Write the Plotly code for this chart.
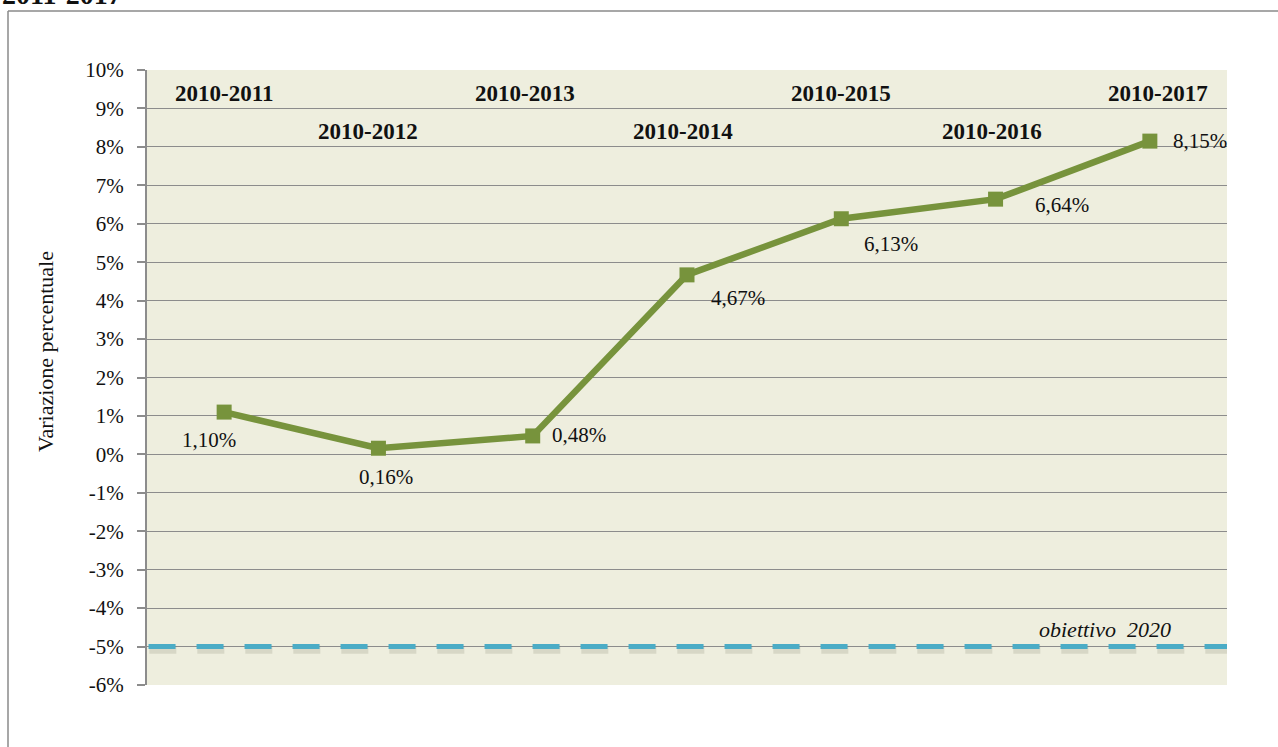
import plotly.graph_objects as go

periodi = ["2010-2011", "2010-2012", "2010-2013", "2010-2014",
           "2010-2015", "2010-2016", "2010-2017"]
variazione = [1.10, 0.16, 0.48, 4.67, 6.13, 6.64, 8.15]
obiettivo = -5.0
tick_vals = list(range(-6, 11))
tick_text = [f"{v}%" for v in tick_vals]
# quota dei nomi dei periodi (righe alternate)
quota_periodi = [9.4, 8.4, 9.4, 8.4, 9.4, 8.4, 9.4]

# spostamenti delle etichette (px)
label_shift = [(-15, -28), (8, -29), (46, 1), (51, -23), (50, -25), (66, -6), (50, 0)]
periodo_shift = [0, -10, -8, -4, 0, -4, 8]

serif = "Liberation Serif, Times New Roman, serif"
W, H = 1278, 747
L, R, T, B = 147, 51, 70, 62
pw, ph = W - L - R, H - T - B

x = list(range(len(periodi)))
fig = go.Figure()

# ombra della linea obiettivo
fig.add_trace(go.Scatter(
    x=[-0.485, 6.515], y=[obiettivo - 0.08, obiettivo - 0.08], mode="lines",
    line=dict(color="rgba(60,60,40,0.13)", width=8, dash="27px,21px"),
    hoverinfo="skip", showlegend=False
))
fig.add_trace(go.Scatter(
    x=[-0.49, 6.5], y=[obiettivo, obiettivo], mode="lines",
    line=dict(color="#4BACC6", width=5, dash="27px,21px"),
    hoverinfo="skip", showlegend=False
))

fig.add_trace(go.Scatter(
    x=x, y=variazione, mode="lines+markers",
    line=dict(color="#77933C", width=6.5),
    marker=dict(symbol="square", size=15, color="#77933C"),
    showlegend=False
))

annotations = []
for i, v in enumerate(variazione):
    annotations.append(dict(
        x=i, y=v, text=f"{v:.2f}%".replace(".", ","), showarrow=False,
        xshift=label_shift[i][0], yshift=label_shift[i][1],
        font=dict(family=serif, size=21, color="#111111")
    ))
for i, p in enumerate(periodi):
    annotations.append(dict(
        x=i, y=quota_periodi[i], text=f"<b>{p}</b>", showarrow=False,
        xshift=periodo_shift[i],
        font=dict(family=serif, size=23, color="#111111")
    ))
annotations.append(dict(
    x=5.71, y=-4.55, text="<i>obiettivo  2020</i>", showarrow=False,
    font=dict(family=serif, size=22, color="#111111")
))
annotations.append(dict(
    xref="paper", yref="paper", x=(45 - L) / pw, y=(H - B - 352) / ph,
    xanchor="center", yanchor="middle",
    text="Variazione percentuale", textangle=-90, showarrow=False,
    font=dict(family=serif, size=22, color="#111111")
))
# titolo della pagina, tagliato in alto come nell'originale
annotations.append(dict(
    xref="paper", yref="paper", x=-L / pw, y=(H - B - 12) / ph,
    xanchor="left", yanchor="bottom",
    text="<b>2011-2017</b>", showarrow=False,
    font=dict(family=serif, size=28, color="#111111")
))

frame_y = (H - B - 11) / ph
frame_x = (8 - L) / pw

fig.update_layout(
    width=W, height=H,
    margin=dict(l=L, r=R, t=T, b=B),
    paper_bgcolor="white",
    plot_bgcolor="#EEEEDE",
    annotations=annotations,
    shapes=[
        dict(type="line", xref="paper", yref="paper",
             x0=frame_x, x1=1.2, y0=frame_y, y1=frame_y,
             line=dict(color="#8a8a8a", width=1.5)),
        dict(type="line", xref="paper", yref="paper",
             x0=frame_x, x1=frame_x, y0=frame_y, y1=-0.3,
             line=dict(color="#8a8a8a", width=1.5)),
    ],
    xaxis=dict(range=[-0.5, 6.5], showticklabels=False, showgrid=False,
               zeroline=False, fixedrange=True),
    yaxis=dict(
        range=[-6, 10], tickvals=tick_vals, ticktext=tick_text,
        showgrid=True, gridcolor="#8c8c8c", gridwidth=1.3,
        zeroline=True, zerolinecolor="#8c8c8c", zerolinewidth=1.3,
        showline=True, linecolor="#8c8c8c", linewidth=2,
        ticks="outside", ticklen=8, tickcolor="#8c8c8c", tickwidth=1.5,
        ticklabelstandoff=9,
        tickfont=dict(family=serif, size=21, color="#111111"),
    ),
)

# niente margine del body, la figura parte da (0, 0)
fig.write_html("out.html", config={"displayModeBar": False},
               post_script="document.body.style.margin = '0';")
